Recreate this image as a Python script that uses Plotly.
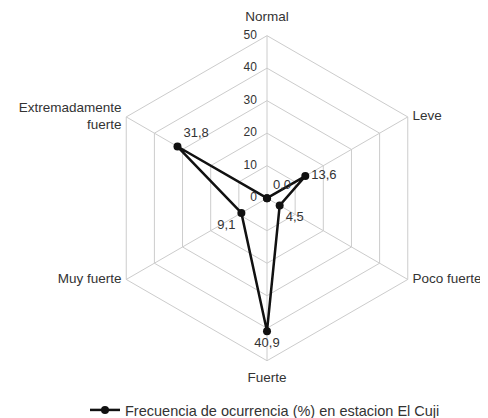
import plotly.graph_objects as go

categories = ["Normal", "Leve", "Poco fuerte", "Fuerte", "Muy fuerte", "Extremadamente<br>fuerte"]
values = [0.0, 13.6, 4.5, 40.9, 9.1, 31.8]
label_pos = ["top right", "middle right", "bottom right", "bottom center", "bottom left", "top right"]
cat_label_pos = ["top center", "middle right", "middle right", "bottom center", "middle left", "middle left"]
radial_ticks = [0, 10, 20, 30, 40, 50]
r_max = 50
series_name = "Frecuencia de ocurrencia (%) en estacion El Cuji"

texts = [f"{v:.1f}".replace(".", ",") for v in values]
tick_texts = [f"{t}\u00a0\u00a0\u00a0" for t in radial_ticks]

FONT = "Liberation Sans, Arial, sans-serif"
TXT = "#333333"

fig = go.Figure()
# main series (clipped to the grid so the point at r=0 is kept)
fig.add_trace(go.Scatterpolar(
    r=values + values[:1],
    theta=categories + categories[:1],
    mode="lines+markers+text",
    text=texts + [""],
    textposition=label_pos + ["top right"],
    textfont=dict(family=FONT, size=13, color=TXT),
    line=dict(color="#111111", width=2.5),
    marker=dict(color="#111111", size=8),
    name=series_name,
    showlegend=True,
    cliponaxis=True,
    hoverinfo="skip",
    subplot="polar",
))
# radial tick label at the centre
fig.add_trace(go.Scatterpolar(
    r=radial_ticks[:1],
    theta=[categories[0]],
    mode="text",
    text=tick_texts[:1],
    textposition="middle left",
    textfont=dict(family=FONT, size=12, color=TXT),
    showlegend=False,
    cliponaxis=True,
    hoverinfo="skip",
    subplot="polar",
))
# remaining radial tick labels, on an overlay subplot
fig.add_trace(go.Scatterpolar(
    r=radial_ticks[1:],
    theta=[categories[0]] * (len(radial_ticks) - 1),
    mode="text",
    text=tick_texts[1:],
    textposition="middle left",
    textfont=dict(family=FONT, size=12, color=TXT),
    showlegend=False,
    cliponaxis=False,
    hoverinfo="skip",
    subplot="polar2",
))
# category labels outside the outer hexagon
fig.add_trace(go.Scatterpolar(
    r=[r_max] * len(categories),
    theta=categories,
    mode="markers+text",
    marker=dict(size=[16, 6, 6, 16, 6, 6], opacity=0),
    text=categories,
    textposition=cat_label_pos,
    textfont=dict(family=FONT, size=13.5, color=TXT),
    showlegend=False,
    cliponaxis=False,
    hoverinfo="skip",
    subplot="polar2",
))

W, H = 488, 418
dom_top, dom_bot = 28, 357
dom_cx = 259
half = (dom_bot - dom_top) / 2
domain = dict(x=[(dom_cx - half) / W, (dom_cx + half) / W],
              y=[(H - dom_bot) / H, (H - dom_top) / H])

fig.update_layout(
    width=W, height=H,
    margin=dict(l=0, r=0, t=0, b=0),
    paper_bgcolor="white",
    plot_bgcolor="white",
    font=dict(family=FONT, size=14, color=TXT),
    polar=dict(
        domain=domain,
        gridshape="linear",
        bgcolor="white",
        angularaxis=dict(
            rotation=90, direction="clockwise", categoryarray=categories, categoryorder="array",
            linecolor="#cccccc", gridcolor="#cccccc", linewidth=1,
            showline=True, ticks="", showticklabels=False,
        ),
        radialaxis=dict(
            range=[0, r_max], tickvals=radial_ticks, angle=90,
            showline=False, gridcolor="#cccccc", ticks="", showticklabels=False,
        ),
    ),
    polar2=dict(
        domain=domain,
        gridshape="linear",
        bgcolor="rgba(0,0,0,0)",
        angularaxis=dict(
            rotation=90, direction="clockwise", categoryarray=categories, categoryorder="array",
            showline=False, showgrid=False, ticks="", showticklabels=False,
        ),
        radialaxis=dict(
            range=[0, r_max], angle=90,
            showline=False, showgrid=False, ticks="", showticklabels=False,
        ),
    ),
    legend=dict(orientation="h", x=257 / W, xanchor="center", y=(H - 407) / H, yanchor="middle",
                font=dict(family=FONT, size=14.5, color=TXT)),
)

fig.write_html("out.html")
